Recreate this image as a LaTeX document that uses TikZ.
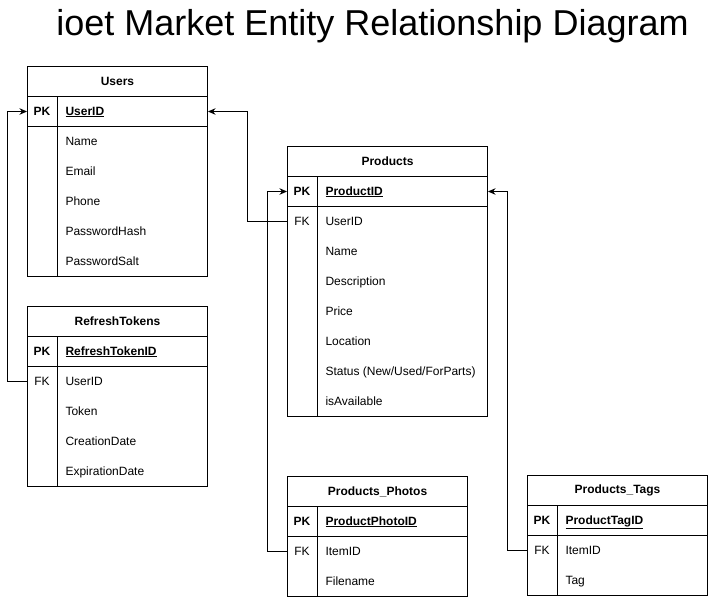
\documentclass[tikz,border=0pt]{standalone}
\usepackage{fontspec}
\setmainfont{Liberation Sans}
\usetikzlibrary{arrows.meta}
\begin{document}
\begin{tikzpicture}[x=1pt,y=-1pt,
  font=\fontsize{12}{14}\selectfont,
  line width=1pt,
  box/.style={draw, line width=1pt, inner sep=0pt, anchor=north west, minimum height=30pt},
  row/.style={inner sep=0pt, anchor=north west, minimum height=30pt},
  fld/.style={anchor=west, inner sep=0pt, text height=9pt, text depth=1pt},
  keyl/.style={anchor=center, inner sep=0pt, text height=9pt, text depth=1pt, font=\fontsize{12}{14}\selectfont\bfseries},
  fkl/.style={anchor=center, inner sep=0pt, text height=9pt, text depth=1pt},
  conn/.style={draw, line width=1pt, -{Stealth[length=7.5pt,width=6.5pt]}}
]
\useasboundingbox (0,0) rectangle (708,597);

% Title
\node[anchor=base, inner sep=0pt, font=\fontsize{36}{40}\selectfont] (title) at (372.5,35.5) {ioet Market Entity Relationship Diagram};

% ---------- Users ----------
\node[box, minimum width=180pt] (u-title) at (27,66) {\bfseries Users};
\node[box, minimum width=180pt] (u-pk) at (27,96) {};
\node[box, minimum width=180pt, minimum height=150pt] (u-body) at (27,126) {};
\draw (57,96) -- (57,276);
\node[keyl] (u-pkl) at (42,111) {PK};
\node[fld] (u-f0) at (65,111) {\bfseries\underline{UserID}};
\foreach \t [count=\i from 0] in {Name,Email,Phone,PasswordHash,PasswordSalt}
  \node[fld] (u-f\i) at (65,141+30*\i) {\t};

% ---------- RefreshTokens ----------
\node[box, minimum width=180pt] (rt-title) at (27,306) {\bfseries RefreshTokens};
\node[box, minimum width=180pt] (rt-pk) at (27,336) {};
\node[box, minimum width=180pt, minimum height=120pt] (rt-body) at (27,366) {};
\draw (57,336) -- (57,486);
\node[row, minimum width=180pt] (rt-fk) at (27,366) {};
\node[keyl] (rt-pkl) at (42,351) {PK};
\node[fkl] (rt-fkl) at (42,381) {FK};
\node[fld] (rt-pkf) at (65,351) {\bfseries\underline{RefreshTokenID}};
\foreach \t [count=\i from 0] in {UserID,Token,CreationDate,ExpirationDate}
  \node[fld] (rt-f\i) at (65,381+30*\i) {\t};

% ---------- Products ----------
\node[box, minimum width=200pt] (p-title) at (287,146) {\bfseries Products};
\node[box, minimum width=200pt] (p-pk) at (287,176) {};
\node[box, minimum width=200pt, minimum height=210pt] (p-body) at (287,206) {};
\draw (317,176) -- (317,416);
\node[row, minimum width=200pt] (p-fk) at (287,206) {};
\node[keyl] (p-pkl) at (302,191) {PK};
\node[fkl] (p-fkl) at (302,221) {FK};
\node[fld] (p-pkf) at (325,191) {\bfseries\underline{ProductID}};
\foreach \t [count=\i from 0] in {UserID,Name,Description,Price,Location,Status (New/Used/ForParts),isAvailable}
  \node[fld] (p-f\i) at (325,221+30*\i) {\t};

% ---------- Products_Photos ----------
\node[box, minimum width=180pt] (ph-title) at (287,476) {\bfseries Products\_Photos};
\node[box, minimum width=180pt] (ph-pk) at (287,506) {};
\node[box, minimum width=180pt, minimum height=60pt] (ph-body) at (287,536) {};
\draw (317,506) -- (317,596);
\node[row, minimum width=180pt] (ph-fk) at (287,536) {};
\node[keyl] (ph-pkl) at (302,521) {PK};
\node[fkl] (ph-fkl) at (302,551) {FK};
\node[fld] (ph-pkf) at (325,521) {\bfseries\underline{ProductPhotoID}};
\node[fld] (ph-f0) at (325,551) {ItemID};
\node[fld] (ph-f1) at (325,581) {Filename};

% ---------- Products_Tags ----------
\node[box, minimum width=180pt] (t-title) at (527,475) {\bfseries Products\_Tags};
\node[box, minimum width=180pt] (t-pk) at (527,505) {};
\node[box, minimum width=180pt, minimum height=60pt] (t-body) at (527,535) {};
\draw (557,505) -- (557,595);
\node[row, minimum width=180pt] (t-fk) at (527,535) {};
\node[keyl] (t-pkl) at (542,520) {PK};
\node[fkl] (t-fkl) at (542,550) {FK};
\node[fld] (t-pkf) at (565,520) {\bfseries\underline{ProductTagID}};
\node[fld] (t-f0) at (565,550) {ItemID};
\node[fld] (t-f1) at (565,580) {Tag};

% ---------- Connectors ----------
\draw[conn] (rt-fk.west) -- ++(-20,0) |- (u-pk.west);
\draw[conn] (p-fk.west) -- ++(-40,0) |- (u-pk.east);
\draw[conn] (ph-fk.west) -- ++(-20,0) |- (p-pk.west);
\draw[conn] (t-fk.west) -- ++(-20,0) |- (p-pk.east);
\end{tikzpicture}
\end{document}
